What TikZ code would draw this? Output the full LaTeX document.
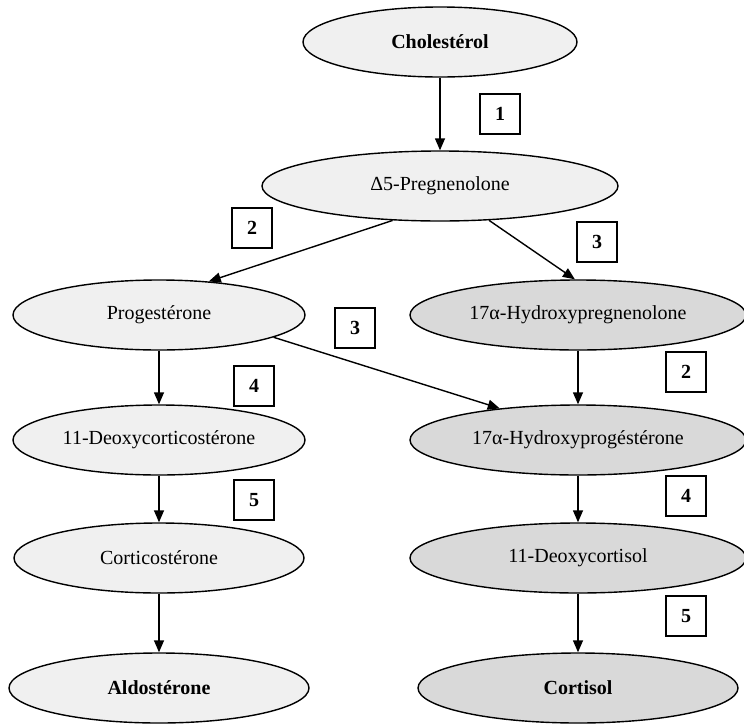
\documentclass[tikz,border=0pt]{standalone}
\usepackage{fontspec}
\setmainfont{Liberation Serif}
\usetikzlibrary{shapes.geometric,arrows.meta}
\definecolor{lightfill}{gray}{0.94}
\definecolor{darkfill}{gray}{0.85}
\begin{document}
\begin{tikzpicture}[x=0.5pt, y=-0.5pt, -{Triangle[length=6pt, width=5pt]}, line width=0.7pt,
  main node/.style={ellipse, draw, fill=lightfill, minimum height=35pt, inner sep=0pt},
  grey node/.style={main node, fill=darkfill},
  num node/.style={rectangle, draw, fill=white, minimum size=20pt, inner sep=0pt, font=\bfseries}]
  \tikzstyle{every node}=[font=\normalsize]
  \useasboundingbox (0,0) rectangle (744,723);

  \node[main node, minimum width=137pt, font=\bfseries] (chol) at (440,42) {Cholestérol};
  \node[main node, minimum width=178pt] (preg) at (440,186) {Δ5-Pregnenolone};
  \node[main node, minimum width=146pt] (prog) at (159,315) {Progestérone};
  \node[grey node, minimum width=168pt] (ohpreg) at (578,315) {17α-Hydroxypregnenolone};
  \node[main node, minimum width=146pt] (doc) at (159,440) {11-Deoxycorticostérone};
  \node[grey node, minimum width=168pt] (ohprog) at (578,440) {17α-Hydroxyprogéstérone};
  \node[main node, minimum width=145pt] (cortico) at (159,558) {Corticostérone};
  \node[grey node, minimum width=168pt] (dcort) at (578,558) {11-Deoxycortisol};
  \node[main node, minimum width=150pt, font=\bfseries] (aldo) at (159,688) {Aldostérone};
  \node[grey node, minimum width=160pt, font=\bfseries] (cortisol) at (578,688) {Cortisol};

  % enzyme numbers
  \node[num node] (b1) at (500,114) {1};
  \node[num node] (b2a) at (252,228) {2};
  \node[num node] (b3a) at (597,242) {3};
  \node[num node] (b3b) at (355,328) {3};
  \node[num node] (b4a) at (254,386) {4};
  \node[num node] (b2b) at (686,372) {2};
  \node[num node] (b5a) at (254,500) {5};
  \node[num node] (b4b) at (686,496) {4};
  \node[num node] (b5b) at (686,616) {5};

  \path (chol) edge (preg)
        (preg.216) edge (prog.34)
        (preg.-35) edge (ohpreg.95)
        (prog.-11) edge (ohprog.158)
        (prog) edge (doc)
        (doc) edge (cortico)
        (cortico) edge (aldo)
        (ohpreg) edge (ohprog)
        (ohprog) edge (dcort)
        (dcort) edge (cortisol);
\end{tikzpicture}
\end{document}
